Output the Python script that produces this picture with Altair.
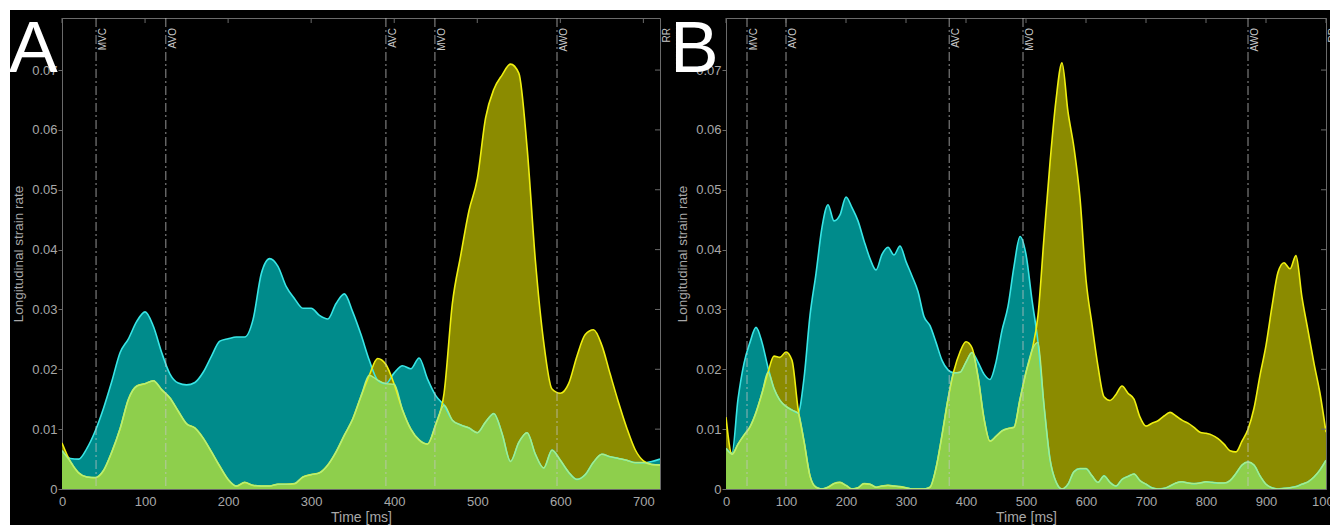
import altair as alt
import pandas as pd

FONT = "Liberation Sans"
LABEL_GRAY = "#a8a8a8"
AXIS_GRAY = "#6a6a6a"
TEAL = "#008b8b"
OLIVE = "#8b8b00"
GREEN = "#8ecf4c"
CYAN_LINE = "#38e6e6"
YELLOW_LINE = "#f0f010"
GREEN_LINE = "#aeee84"
YMAX = 0.0787

# ---------------- Panel A data (time step 10 ms) ----------------
A_TIME = list(range(0, 721, 10))
A_CYAN = [0.0064, 0.0051, 0.0050, 0.0068, 0.0097, 0.0135, 0.0180, 0.0228, 0.0251, 0.0280,
          0.0296, 0.0272, 0.0228, 0.0192, 0.0177, 0.0174, 0.0178, 0.0195, 0.0222, 0.0247,
          0.0251, 0.0254, 0.0254, 0.0283, 0.0360, 0.0385, 0.0372, 0.0338, 0.0318, 0.0302,
          0.0302, 0.0290, 0.0284, 0.0310, 0.0326, 0.0296, 0.0258, 0.0215, 0.0182, 0.0176,
          0.0194, 0.0206, 0.0201, 0.0219, 0.0184, 0.0156, 0.0140, 0.0115, 0.0107, 0.0102,
          0.0094, 0.0112, 0.0126, 0.0092, 0.0046, 0.0078, 0.0094, 0.0058, 0.0035, 0.0065,
          0.0048, 0.0028, 0.0016, 0.0024, 0.0045, 0.0058, 0.0054, 0.0051, 0.0048, 0.0044,
          0.0044, 0.0046, 0.0050]
A_YELLOW = [0.0077, 0.0046, 0.0027, 0.0020, 0.0019, 0.0031, 0.0062, 0.0101, 0.0150, 0.0172,
            0.0176, 0.0181, 0.0166, 0.0152, 0.0130, 0.0109, 0.0102, 0.0085, 0.0062, 0.0038,
            0.0016, 0.0005, 0.0011, 0.0006, 0.0005, 0.0005, 0.0008, 0.0008, 0.0009, 0.0020,
            0.0024, 0.0027, 0.0040, 0.0062, 0.0090, 0.0117, 0.0155, 0.0190, 0.0218, 0.0208,
            0.0175, 0.0132, 0.0100, 0.0082, 0.0075, 0.0108, 0.0160, 0.0310, 0.0390, 0.0465,
            0.0518, 0.0620, 0.0668, 0.0692, 0.0710, 0.0695, 0.0570, 0.0381, 0.0245, 0.0167,
            0.0160, 0.0176, 0.0222, 0.0258, 0.0266, 0.0240, 0.0192, 0.0145, 0.0102, 0.0066,
            0.0047, 0.0041, 0.0040]
A_EVENTS = ["MVC", "AVO", "AVC", "MVO", "AWO", "RR"]
A_EVENT_T = [41, 125, 390, 449, 596, 720]
A_XTICKS = [0, 100, 200, 300, 400, 500, 600, 700]

# ---------------- Panel B data (time step 10 ms) ----------------
B_TIME = list(range(0, 1001, 10))
B_CYAN = [0.0068, 0.0060, 0.0150, 0.0210, 0.0245, 0.0270, 0.0245, 0.0203, 0.0168, 0.0148,
          0.0138, 0.0132, 0.0127, 0.0185, 0.0290, 0.0360, 0.0437, 0.0475, 0.0448, 0.0458,
          0.0488, 0.0470, 0.0448, 0.0415, 0.0385, 0.0366, 0.0392, 0.0404, 0.0391, 0.0406,
          0.0380, 0.0356, 0.0330, 0.0288, 0.0273, 0.0245, 0.0215, 0.0199, 0.0194, 0.0195,
          0.0212, 0.0228, 0.0212, 0.0192, 0.0183, 0.0212, 0.0265, 0.0305, 0.0372, 0.0422,
          0.0392, 0.0316, 0.0245, 0.0140, 0.0050, 0.0012, 0.0000, 0.0008, 0.0029, 0.0034,
          0.0034, 0.0022, 0.0011, 0.0022, 0.0011, 0.0005, 0.0016, 0.0021, 0.0025, 0.0014,
          0.0008, 0.0002, 0.0000, 0.0001, 0.0005, 0.0010, 0.0012, 0.0010, 0.0009, 0.0010,
          0.0012, 0.0011, 0.0010, 0.0010, 0.0014, 0.0026, 0.0040, 0.0045, 0.0040, 0.0022,
          0.0008, 0.0002, 0.0000, 0.0001, 0.0002, 0.0004, 0.0008, 0.0012, 0.0020, 0.0032,
          0.0048]
B_YELLOW = [0.0120, 0.0058, 0.0075, 0.0090, 0.0104, 0.0128, 0.0160, 0.0195, 0.0222, 0.0220,
            0.0229, 0.0215, 0.0135, 0.0080, 0.0022, 0.0003, 0.0000, 0.0003, 0.0009, 0.0011,
            0.0006, 0.0000, 0.0002, 0.0009, 0.0008, 0.0003, 0.0005, 0.0006, 0.0005, 0.0004,
            0.0002, 0.0000, 0.0000, 0.0000, 0.0003, 0.0035, 0.0090, 0.0150, 0.0198, 0.0229,
            0.0246, 0.0236, 0.0188, 0.0118, 0.0080, 0.0088, 0.0097, 0.0101, 0.0103, 0.0150,
            0.0195, 0.0232, 0.0290, 0.0420, 0.0545, 0.0650, 0.0712, 0.0630, 0.0570, 0.0486,
            0.0350, 0.0275, 0.0205, 0.0154, 0.0148, 0.0158, 0.0172, 0.0160, 0.0150, 0.0120,
            0.0105, 0.0110, 0.0114, 0.0122, 0.0128, 0.0122, 0.0115, 0.0110, 0.0103, 0.0095,
            0.0093, 0.0090, 0.0084, 0.0075, 0.0064, 0.0062, 0.0080, 0.0100, 0.0135, 0.0190,
            0.0240, 0.0305, 0.0362, 0.0378, 0.0368, 0.0390, 0.0320, 0.0265, 0.0210, 0.0160,
            0.0095]
B_EVENTS = ["MVC", "AVO", "AVC", "MVO", "AWO", "RR"]
B_EVENT_T = [35, 100, 372, 495, 870, 1000]
B_XTICKS = [0, 100, 200, 300, 400, 500, 600, 700, 800, 900, 1000]

Y_TICKS = [0, 0.01, 0.02, 0.03, 0.04, 0.05, 0.06, 0.07]

PANEL_H = 471
LEFT = 62
TOP = 18


def panel(times, cyan, yellow, ev_names, ev_times, xticks, xmax, width, letter, letter_x, strips):
    df = pd.DataFrame({"t": times, "c": cyan, "yl": yellow})
    xs = alt.Scale(domain=[0, xmax], nice=False, zero=False)
    ys = alt.Scale(domain=[0, YMAX], nice=False)
    xaxis = alt.Axis(values=xticks, format="d", title="Time [ms]", labelFlush=False,
                     labelOverlap=False, ticks=False, labelPadding=6, labelFontSize=13,
                     labelColor=LABEL_GRAY, titleColor=LABEL_GRAY, titleFontSize=14,
                     titleFontWeight="normal", titlePadding=2, domainColor=AXIS_GRAY,
                     grid=False, zindex=0, labelFont=FONT, titleFont=FONT)
    yaxis = alt.Axis(values=Y_TICKS, format=".2~f", title="Longitudinal strain rate",
                     labelFlush=False, labelOverlap=False, tickSize=4, tickColor=AXIS_GRAY,
                     labelPadding=1, labelFontSize=13, labelColor=LABEL_GRAY,
                     titleColor=LABEL_GRAY, titleFontSize=13.5, titleFontWeight="normal",
                     titleX=-44, titleBaseline="middle", domainColor=AXIS_GRAY, grid=False,
                     zindex=0, labelFont=FONT, titleFont=FONT)
    X = alt.X("t:Q", scale=xs, axis=xaxis)
    base = alt.Chart(df).transform_calculate(m="min(datum.c, datum.yl)")
    teal = base.mark_area(color=TEAL, interpolate="monotone", clip=True).encode(
        x=X, y=alt.Y("c:Q", scale=ys, axis=yaxis))
    olive = base.mark_area(color=OLIVE, interpolate="monotone", clip=True).encode(
        x=X, y=alt.Y("yl:Q", scale=ys, axis=yaxis))
    green = base.mark_area(color=GREEN, interpolate="monotone", clip=True).encode(
        x=X, y=alt.Y("m:Q", scale=ys, axis=yaxis))
    cline = base.mark_line(color=CYAN_LINE, strokeWidth=1.6, interpolate="monotone", clip=True).encode(
        x=X, y=alt.Y("c:Q", scale=ys, axis=yaxis))
    yline = base.mark_line(color=YELLOW_LINE, strokeWidth=1.6, interpolate="monotone", clip=True).encode(
        x=X, y=alt.Y("yl:Q", scale=ys, axis=yaxis))
    gline = base.mark_line(color=GREEN_LINE, strokeWidth=1.4, interpolate="monotone", clip=True).encode(
        x=X, y=alt.Y("m:Q", scale=ys, axis=yaxis))

    ev = pd.DataFrame({"t": ev_times, "name": ev_names})
    ev_base = alt.Chart(ev)
    rules = ev_base.transform_filter("datum.name != 'RR'").mark_rule(
        color="#c4c4c4", opacity=0.75, strokeWidth=1, strokeDash=[9, 3, 2, 3]).encode(x=X)
    labels = ev_base.mark_text(angle=270, align="right", baseline="top", dy=2,
                               fontSize=10, font=FONT, color="#c8c8c8").encode(
        x=X, y=alt.value(10), text="name:N")

    top_ticks = alt.Chart(pd.DataFrame({"t": xticks})).mark_rule(
        color=AXIS_GRAY, strokeWidth=1).encode(x=X, y=alt.value(0), y2=alt.value(5))
    right_ticks = alt.Chart(pd.DataFrame({"c": Y_TICKS[1:]})).mark_rule(
        color=AXIS_GRAY, strokeWidth=1).encode(
        y=alt.Y("c:Q", scale=ys, axis=yaxis), x=alt.value(width - 5), x2=alt.value(width))

    letter_layer = alt.Chart(pd.DataFrame({"s": [letter]})).mark_text(
        align="left", baseline="alphabetic", fontSize=73, font=FONT, color="white").encode(
        text="s:N", x=alt.value(letter_x), y=alt.value(54))

    layers = [teal, olive, green, cline, yline, gline, rules, labels, top_ticks, right_ticks,
              letter_layer]
    if strips:
        one = alt.Chart(pd.DataFrame({"k": [1]}))
        top_strip = one.mark_rect(color="white", clip=False).encode(
            x=alt.value(-LEFT), x2=alt.value(1330 - LEFT), y=alt.value(-TOP), y2=alt.value(10 - TOP))
        left_strip = one.mark_rect(color="white", clip=False).encode(
            x=alt.value(-LEFT), x2=alt.value(10 - LEFT), y=alt.value(-TOP), y2=alt.value(525 - TOP))
        layers += [top_strip, left_strip]
    return alt.layer(*layers).properties(width=width, height=PANEL_H)


chart_a = panel(A_TIME, A_CYAN, A_YELLOW, A_EVENTS, A_EVENT_T, A_XTICKS, 720, 598, "A", -53, True)
chart_b = panel(B_TIME, B_CYAN, B_YELLOW, B_EVENTS, B_EVENT_T, B_XTICKS, 1000, 600, "B", -56, False)

chart = alt.hconcat(chart_a, chart_b, spacing=66, bounds="flush").properties(
    background="#000000",
    autosize=alt.AutoSizeParams(type="none"),
    padding={"left": LEFT, "top": TOP, "right": 1330 - LEFT, "bottom": 525 - TOP},
).configure_view(stroke=AXIS_GRAY, strokeWidth=1)

chart.save("out.html", embed_options={"renderer": "svg", "actions": False})
